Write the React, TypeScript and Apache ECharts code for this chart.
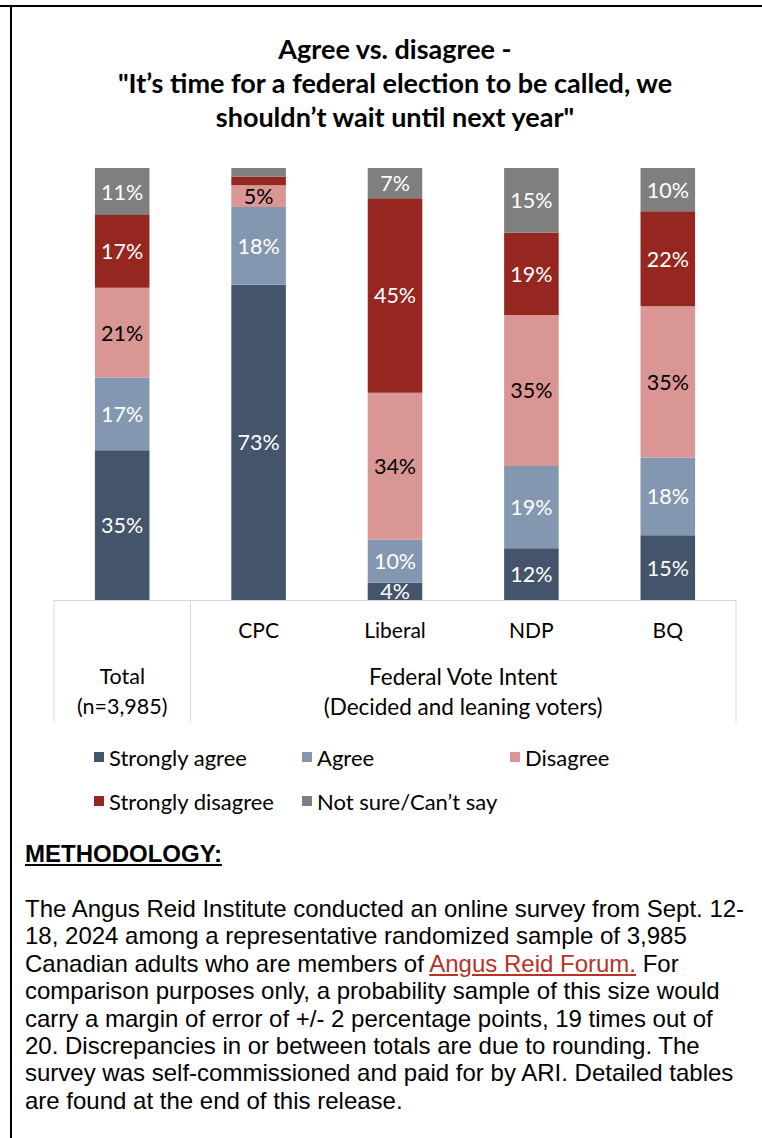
import React, { useEffect, useRef } from 'react';
import * as echarts from 'echarts';

const categories = ['Total', 'CPC', 'Liberal', 'NDP', 'BQ'];
const seriesNames = ['Strongly agree', 'Agree', 'Disagree', 'Strongly disagree', 'Not sure/Can\u2019t say'];
const stronglyAgree = [35, 73, 4, 12, 15];
const agree = [17, 18, 10, 19, 18];
const disagree = [21, 5, 34, 35, 35];
const stronglyDisagree = [17, 2, 45, 19, 22];
const notSure = [11, 2, 7, 15, 10];
const groupTotal = ['Total', '(n=3,985)'];
const groupParties = ['Federal Vote Intent', '(Decided and leaning voters)'];
const titleLines = [
  'Agree vs. disagree -',
  '"It\u2019s time for a federal election to be called, we',
  'shouldn\u2019t wait until next year"',
];
const methodLines = [
  'The Angus Reid Institute conducted an online survey from Sept. 12-',
  '18, 2024 among a representative randomized sample of 3,985',
  null,
  'comparison purposes only, a probability sample of this size would',
  'carry a margin of error of +/- 2 percentage points, 19 times out of',
  '20. Discrepancies in or between totals are due to rounding. The',
  'survey was self-commissioned and paid for by ARI. Detailed tables',
  'are found at the end of this release.',
];

const seriesValues = [stronglyAgree, agree, disagree, stronglyDisagree, notSure];
const seriesColors = ['#44546A', '#8497B0', '#DA9694', '#952620', '#7F7F7F'];
const labelColors = ['#FFFFFF', '#FFFFFF', '#000000', '#FFFFFF', '#FFFFFF'];

const W = 762;
const H = 830;
const GRID = { left: 54, right: 26, top: 168, bottom: 230 };
const FONT = 'Lato, sans-serif';

function Chart() {
  const ref = useRef<HTMLDivElement>(null);
  useEffect(() => {
    if (!ref.current) return;
    const chart = echarts.init(ref.current, undefined, { renderer: 'svg' });
    const totals = categories.map((_, i) => seriesValues.reduce((s, arr) => s + arr[i], 0));
    const plotW = W - GRID.left - GRID.right;
    const bandW = plotW / categories.length;
    const axisY = H - GRID.bottom;
    const lineColor = '#D9D9D9';
    const legendPos = [
      [94, 746],
      [302, 746],
      [510, 746],
      [94, 790],
      [302, 790],
    ];
    const partiesCenter = GRID.left + bandW + (plotW - bandW) / 2;
    const totalCenter = GRID.left + bandW / 2;

    chart.setOption({
      animation: false,
      backgroundColor: '#FFFFFF',
      textStyle: { fontFamily: FONT },
      grid: { ...GRID, containLabel: false },
      legend: seriesNames.map((n, i) => ({
        data: [n],
        left: legendPos[i][0],
        top: legendPos[i][1],
        itemWidth: 10,
        itemHeight: 10,
        icon: 'rect',
        padding: 0,
        textStyle: { fontFamily: FONT, fontSize: 22, color: '#000' },
        selectedMode: false,
      })),
      xAxis: {
        type: 'category',
        data: categories,
        axisLine: { show: true, lineStyle: { color: lineColor, width: 1 } },
        axisTick: { show: false },
        axisLabel: {
          fontFamily: FONT,
          fontSize: 21,
          color: '#000',
          margin: 19,
          formatter: (v: string) => (v === 'Total' ? '' : v),
        },
      },
      yAxis: { type: 'value', min: 0, max: 100, show: false, splitLine: { show: false } },
      series: seriesNames.map((name, si) => ({
        name,
        type: 'bar',
        stack: 'all',
        barWidth: '40%',
        itemStyle: { color: seriesColors[si] },
        label: {
          show: true,
          position: 'inside',
          fontFamily: FONT,
          fontSize: 21.5,
          color: labelColors[si],
          formatter: (p: any) => {
            const raw = seriesValues[si][p.dataIndex];
            return raw >= 3 ? raw + '%' : '';
          },
        },
        data: seriesValues[si].map((v, i) => (v / totals[i]) * 100),
      })),
      graphic: [
        {
          type: 'text',
          x: GRID.left + plotW / 2,
          y: 31,
          style: {
            text: titleLines.join('\n'),
            fontFamily: FONT,
            fontWeight: 'bold',
            fontSize: 27,
            lineHeight: 34,
            fill: '#000',
            textAlign: 'center',
            textVerticalAlign: 'top',
          },
        },
        ...[GRID.left, GRID.left + bandW, W - GRID.right].map((x) => ({
          type: 'line',
          shape: { x1: x, y1: axisY, x2: x, y2: axisY + 122 },
          style: { stroke: lineColor, lineWidth: 1 },
        })),
        {
          type: 'text',
          x: totalCenter,
          y: axisY + 61,
          style: {
            text: groupTotal.join('\n'),
            fontFamily: FONT,
            fontSize: 21.5,
            lineHeight: 30,
            fill: '#000',
            textAlign: 'center',
            textVerticalAlign: 'top',
          },
        },
        {
          type: 'text',
          x: partiesCenter,
          y: axisY + 61,
          style: {
            text: groupParties.join('\n'),
            fontFamily: FONT,
            fontSize: 22.5,
            lineHeight: 30,
            fill: '#000',
            textAlign: 'center',
            textVerticalAlign: 'top',
          },
        },
      ],
    });
    return () => chart.dispose();
  }, []);
  return <div ref={ref} style={{ position: 'absolute', left: 0, top: 0, width: W, height: H }} />;
}

export default function App() {
  const lineStyle: React.CSSProperties = {
    position: 'absolute',
    left: 25,
    whiteSpace: 'nowrap',
    fontFamily: '"Liberation Sans", Arial, sans-serif',
    fontSize: 24,
    lineHeight: '27.4px',
    color: '#000',
  };
  return (
    <div
      style={{
        position: 'absolute',
        left: 0,
        top: 0,
        width: 762,
        height: 1138,
        background: '#fff',
        overflow: 'hidden',
      }}
    >
      <Chart />
      <div
        style={{
          ...lineStyle,
          top: 840,
          fontWeight: 'bold',
          textDecoration: 'underline',
        }}
      >
        METHODOLOGY:
      </div>
      {methodLines.map((t, i) => (
        <div key={i} style={{ ...lineStyle, top: 895 + i * 27.4 }}>
          {t === null ? (
            <>
              Canadian adults who are members of{' '}
              <span style={{ color: '#B83227', textDecoration: 'underline' }}>Angus Reid Forum.</span> For
            </>
          ) : (
            t
          )}
        </div>
      ))}
      <div style={{ position: 'absolute', left: 0, top: 5, width: 762, height: 2, background: '#000' }} />
      <div style={{ position: 'absolute', left: 10, top: 5, width: 2, height: 1133, background: '#000' }} />
    </div>
  );
}
